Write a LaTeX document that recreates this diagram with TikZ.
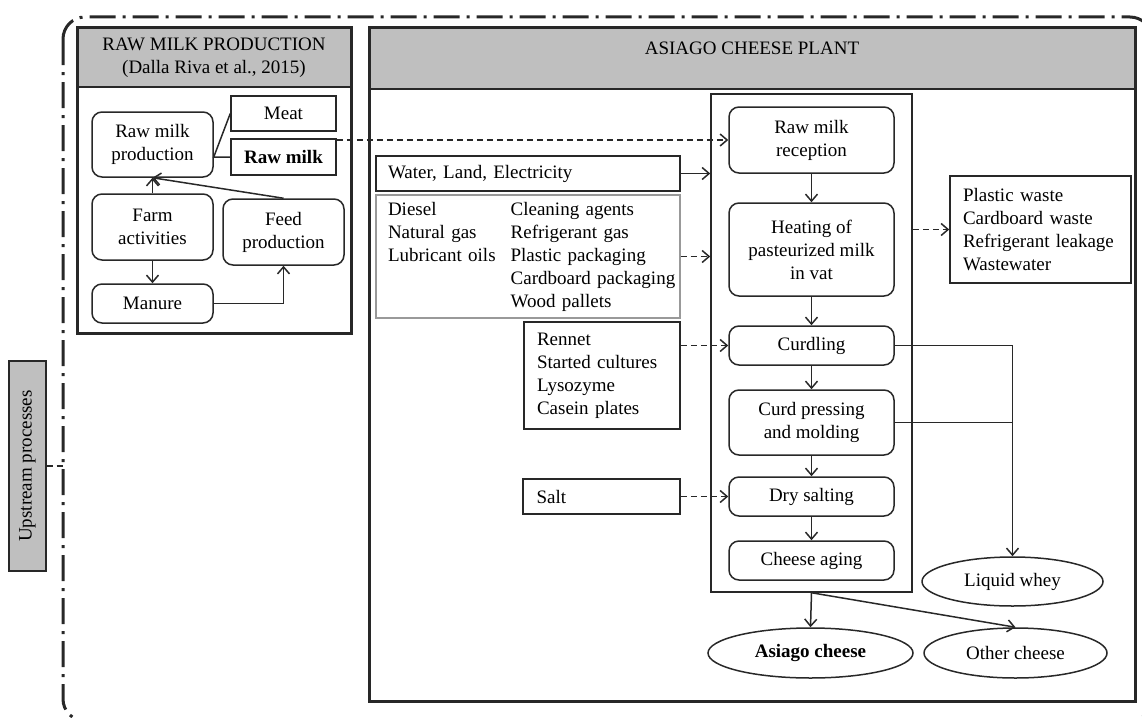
\documentclass[tikz,border=0pt]{standalone}
\usepackage{fontspec}
\setmainfont{Liberation Serif}
\usetikzlibrary{shapes.geometric,arrows.meta}
\definecolor{hdrgray}{RGB}{191,191,191}
\definecolor{ink}{RGB}{40,40,40}

\begin{document}
\begin{tikzpicture}[x=1pt,y=-1pt,font=\fontsize{19}{23}\selectfont,
  line width=1.5pt,draw=ink,
  >={Straight Barb[length=7pt,width=12pt]},
  proc/.style={draw=ink,rounded corners=10pt,align=center,inner sep=0pt},
  inbox/.style={draw=ink,align=left,inner sep=0pt},
  prod/.style={draw=ink,ellipse,inner sep=0pt},
  hdr/.style={draw=ink,fill=hdrgray,align=center,inner sep=0pt,line width=2pt},
  bigbox/.style={draw=ink,line width=3pt,inner sep=0pt},
  dsh/.style={dash pattern=on 6pt off 4pt}]
\useasboundingbox (0,0) rectangle (1142,717);

% system boundary
\draw[line width=3pt,dash pattern=on 26pt off 7pt on 3pt off 7pt,rounded corners=22pt] (63,17) rectangle (1152,721);
\node[hdr,line width=1.3pt,rotate=90,minimum width=210pt,minimum height=37pt] (up) at (27.5,466) {Upstream processes};
\coordinate (bound) at (63,466);
\draw[dsh,line width=1.2pt] (up) -- (bound);

% raw milk production
\node[hdr,minimum width=274pt,minimum height=59pt] (farmhdr) at (214,57.5) {RAW MILK PRODUCTION\\(Dalla Riva et al., 2015)};
\node[bigbox,minimum width=274pt,minimum height=305pt] (farmbox) at (214,180.5) {};
\node[proc,minimum width=121pt,minimum height=65pt] (rmp) at (152.5,144.5) {Raw milk\\production};
\node[inbox,minimum width=105pt,minimum height=35pt,align=center] (meat) at (283.5,113.5) {Meat};
\node[inbox,minimum width=105pt,minimum height=36pt,align=center] (rawmilk) at (283.5,157) {\textbf{Raw milk}};
\node[proc,minimum width=121pt,minimum height=66pt] (farm) at (152.5,227) {Farm\\activities};
\node[proc,minimum width=121pt,minimum height=66pt] (feed) at (283.5,232) {Feed\\production};
\node[proc,minimum width=121pt,minimum height=39pt] (manure) at (152.5,303.5) {Manure};
\coordinate (fork) at (rmp.east |- rawmilk.west);
\draw (rawmilk.west) -- (fork) -- (meat.west);
\draw[->] (farm) -- (rmp);
\draw[->] (feed.north) -- (rmp.south);
\draw[->] (farm) -- (manure);
\draw[->] (manure.east) -| (feed.south);

% cheese plant
\node[hdr,minimum width=766pt,minimum height=61pt] (planthdr) at (752,58.5) {};
\node (planttitle) at (752,48) {ASIAGO CHEESE PLANT};
\node[bigbox,minimum width=766pt,minimum height=673pt] (plantbox) at (752,364.5) {};
\node[draw=ink,minimum width=201pt,minimum height=498pt,inner sep=0pt] (frame) at (811.5,343) {};

\node[proc,minimum width=165pt,minimum height=66pt] (reception) at (811.5,140) {Raw milk\\reception};
\node[proc,minimum width=165pt,minimum height=93pt] (heating) at (811.5,249.5) {Heating of\\pasteurized milk\\in vat};
\node[proc,minimum width=165pt,minimum height=39pt] (curdling) at (811.5,345.5) {Curdling};
\node[proc,minimum width=165pt,minimum height=65pt] (pressing) at (811.5,422.5) {Curd pressing\\and molding};
\node[proc,minimum width=165pt,minimum height=39pt] (salting) at (811.5,496.5) {Dry salting};
\node[proc,minimum width=165pt,minimum height=39pt] (aging) at (811.5,560.5) {Cheese aging};
\foreach \a/\b in {reception/heating,heating/curdling,curdling/pressing,pressing/salting,salting/aging}
  \draw[->] (\a) -- (\b);

% inputs
\node[inbox,line width=2pt,minimum width=304pt,minimum height=35pt,text width=280pt] (water) at (528,173.5) {Water, Land, Electricity};
\node[inbox,draw=gray!80,line width=1.2pt,minimum width=304pt,minimum height=123pt,text width=280pt] (diesel) at (528,256.5)
  {\begin{tabular}{@{}l@{\hspace{15pt}}l@{}}
   Diesel & Cleaning agents\\
   Natural gas & Refrigerant gas\\
   Lubricant oils & Plastic packaging\\
   & Cardboard packaging\\
   & Wood pallets
   \end{tabular}};
\node[inbox,minimum width=156pt,minimum height=107pt,text width=130pt] (rennet) at (602,375.5) {Rennet\\Started cultures\\Lysozyme\\Casein plates};
\node[inbox,minimum width=157pt,minimum height=35pt,text width=130pt] (salt) at (601.5,496.5) {Salt};
\node[inbox,minimum width=181pt,minimum height=107pt,text width=155pt] (waste) at (1040.5,229.5) {Plastic waste\\Cardboard waste\\Refrigerant leakage\\Wastewater};

\draw[dsh,->] (rawmilk.east |- reception.west) -- (reception.west);
\draw[->] (water.east) -- (water.east -| frame.west);
\draw[dsh,->] (diesel.east) -- (diesel.east -| frame.west);
\draw[dsh,->] (rennet.east |- curdling.west) -- (curdling.west);
\draw[dsh,->] (salt.east) -- (salting.west);
\draw[dsh,->] (frame.east |- waste.west) -- (waste.west);

% products
\node[prod,minimum width=181pt,minimum height=49pt] (whey) at (1012.5,581.5) {Liquid whey};
\node[prod,minimum width=205pt,minimum height=50pt] (asiago) at (810.5,653) {\textbf{Asiago cheese}};
\node[prod,minimum width=183pt,minimum height=50pt] (other) at (1015.5,653) {Other cheese};
\draw[->] (curdling.east) -| (whey.north);
\draw (pressing.east) -- (pressing.east -| whey.north);
\draw[->] (frame.south) -- (asiago.north);
\draw[->] (frame.south) -- (other.north);
\end{tikzpicture}
\end{document}
